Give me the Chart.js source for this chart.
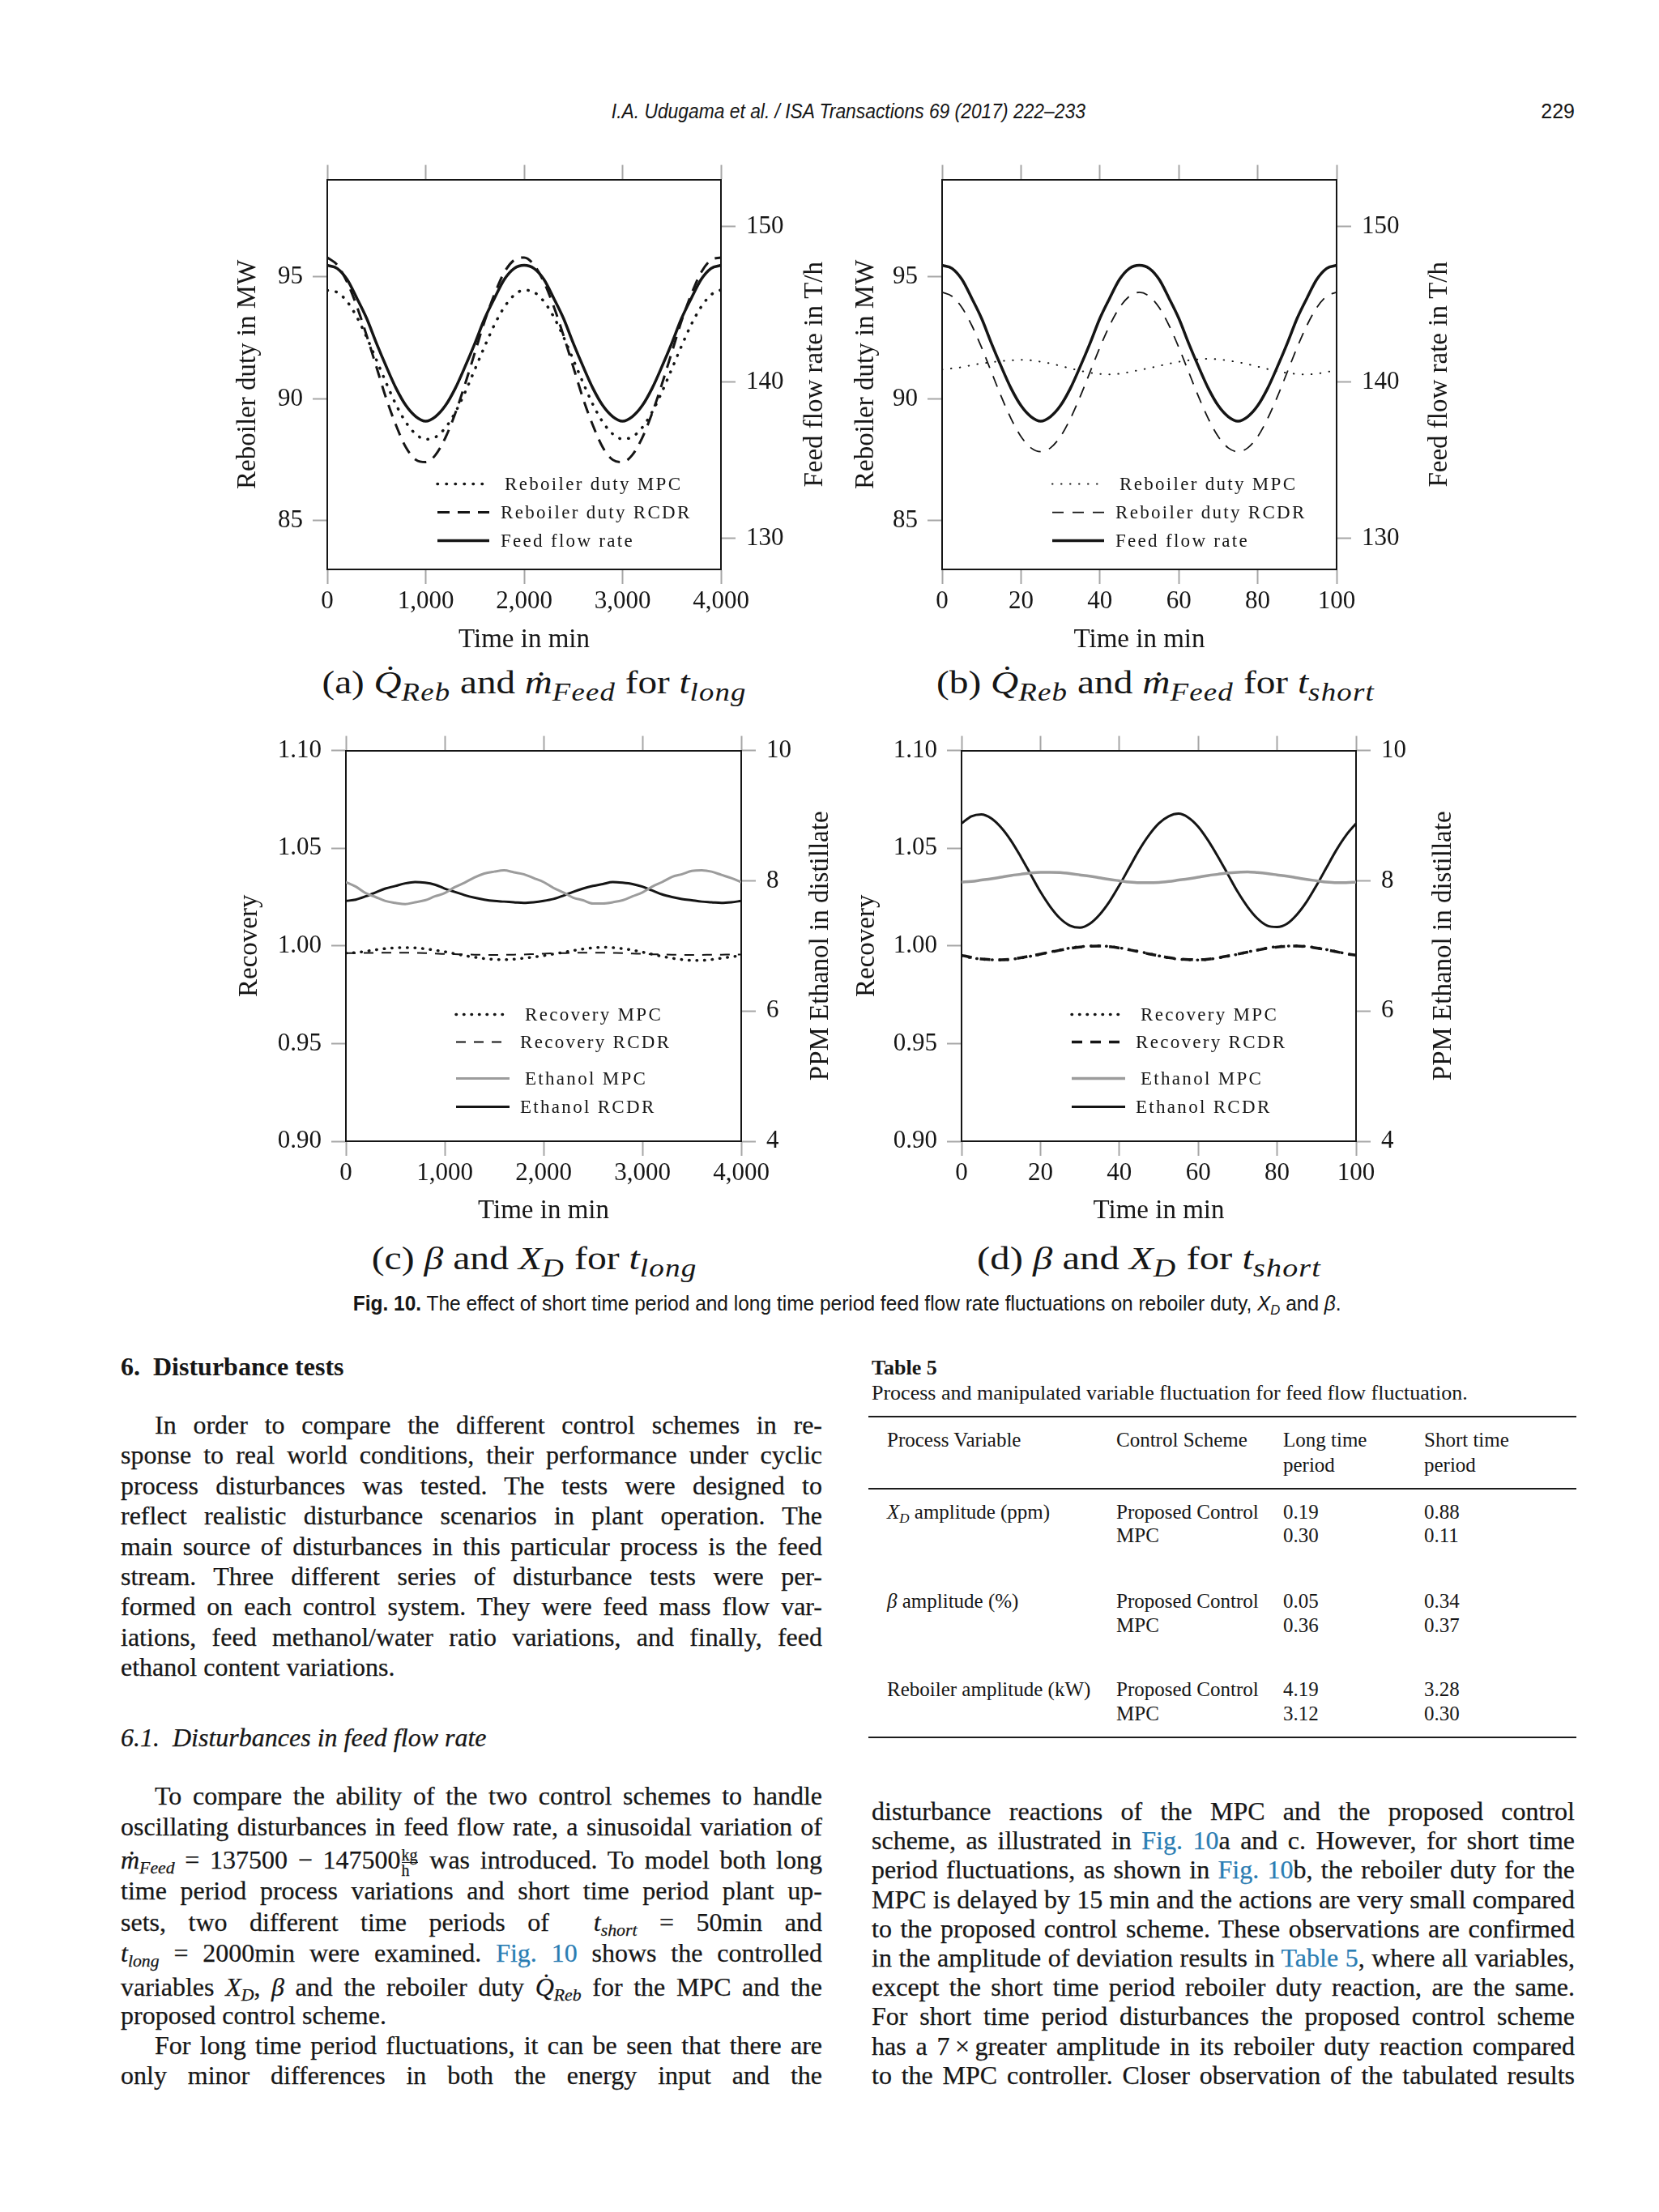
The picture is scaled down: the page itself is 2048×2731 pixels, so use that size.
<!DOCTYPE html>
<html><head><meta charset="utf-8">
<script src="https://cdn.jsdelivr.net/npm/chart.js@4.4.1/dist/chart.umd.min.js"></script>
<style>
html,body{margin:0;padding:0;background:#fff;}
body{width:2048px;height:2731px;position:relative;overflow:hidden;color:#161616;font-family:"Liberation Serif","Times New Roman",serif;}
canvas{position:absolute;}
.a{position:absolute;white-space:nowrap;}
.hdr{font-family:"Liberation Sans Narrow","Liberation Sans",sans-serif;font-style:italic;font-size:25px;line-height:30px;}
.cap{font-size:40px;line-height:46px;text-align:center;}
.cap i{font-style:italic;}
.cap sub{font-size:78%;letter-spacing:1px;}
sub{font-size:68%;vertical-align:-0.28em;line-height:0;}
.ln{position:absolute;font-size:32px;line-height:36px;height:36px;-webkit-text-stroke:0.25px #161616;}
.j{text-align:justify;text-align-last:justify;}
.lk{color:#2a7db3;-webkit-text-stroke:0.25px #2a7db3;}
.frac{display:inline-block;vertical-align:middle;font-size:20px;line-height:18px;text-align:center;margin:0 2px 0 1px;}
.frac span{display:block;}
.frac span+span{border-top:1.5px solid #222;}
.tb{font-size:26px;line-height:30px;}
.tc{font-size:25px;line-height:30px;}
.rule{position:absolute;left:1072px;width:874px;background:#1c1c1c;}
</style>
</head><body>

<div class="a hdr" id="hdr" style="left:547px;width:1000px;top:122px;text-align:center;">I.A. Udugama et al. / ISA Transactions 69 (2017) 222–233</div>
<div class="a hdr" style="left:1900px;width:44px;top:122px;text-align:right;font-style:normal;">229</div>

<canvas id="ca"></canvas>
<canvas id="cb"></canvas>
<canvas id="cc"></canvas>
<canvas id="cd"></canvas>

<div class="a cap" id="capa" style="left:260px;width:800px;top:820px;">(a) <i>Q̇</i><sub><i>Reb</i></sub> and <i>ṁ</i><sub><i>Feed</i></sub> for <i>t</i><sub><i>long</i></sub></div>
<div class="a cap" id="capb" style="left:1026px;width:800px;top:820px;">(b) <i>Q̇</i><sub><i>Reb</i></sub> and <i>ṁ</i><sub><i>Feed</i></sub> for <i>t</i><sub><i>short</i></sub></div>
<div class="a cap" id="capc" style="left:260px;width:800px;top:1531px;">(c) <i>β</i> and <i>X</i><sub><i>D</i></sub> for <i>t</i><sub><i>long</i></sub></div>
<div class="a cap" id="capd" style="left:1019px;width:800px;top:1531px;">(d) <i>β</i> and <i>X</i><sub><i>D</i></sub> for <i>t</i><sub><i>short</i></sub></div>

<div class="a hdr" id="figcap" style="left:246px;width:1600px;top:1594px;text-align:center;font-style:normal;"><b>Fig. 10.</b> The effect of short time period and long time period feed flow rate fluctuations on reboiler duty, <i>X</i><sub><i>D</i></sub> and <i>β</i>.</div>

<div class="a" style="left:149px;top:1668px;font-size:32px;line-height:38px;font-weight:bold;">6.&nbsp;&nbsp;Disturbance tests</div>
<div class="a" style="left:149px;top:2126px;font-size:32px;line-height:38px;font-style:italic;-webkit-text-stroke:0.25px #161616;">6.1.&nbsp;&nbsp;Disturbances in feed flow rate</div>

<div class="a tb" style="left:1076px;top:1674px;font-weight:bold;">Table 5</div>
<div class="a tb" style="left:1076px;top:1705px;">Process and manipulated variable fluctuation for feed flow fluctuation.</div>
<div class="rule" style="top:1748px;height:2px;"></div>
<div class="rule" style="top:1837px;height:2px;"></div>
<div class="rule" style="top:2144px;height:2px;"></div>
<div id="table"></div>
<div id="text"></div>

<script>
// ---------------- data ----------------
const tLong = [0,100,200,300,400,500,600,700,800,900,1000,1100,1200,1300,1400,1500,1600,1700,1800,1900,2000,2100,2200,2300,2400,2500,2600,2700,2800,2900,3000,3100,3200,3300,3400,3500,3600,3700,3800,3900,4000];
const tShort = [0,2.5,5,7.5,10,12.5,15,17.5,20,22.5,25,27.5,30,32.5,35,37.5,40,42.5,45,47.5,50,52.5,55,57.5,60,62.5,65,67.5,70,72.5,75,77.5,80,82.5,85,87.5,90,92.5,95,97.5,100];

// (a) long period, reboiler duty [MW] and feed [T/h]
const rebMpcLong = [94.45,94.37,94.0,93.36,92.53,91.59,90.64,89.75,89.03,88.55,88.34,88.43,88.81,89.44,90.27,91.21,92.16,93.05,93.77,94.26,94.46,94.38,94.0,93.37,92.54,91.6,90.65,89.76,89.04,88.56,88.35,88.44,88.82,89.45,90.28,91.22,92.17,93.06,93.78,94.27,94.47];
const rebRcdrLong = [95.8,95.5,94.8,93.8,92.6,91.3,90.0,88.9,88.0,87.5,87.4,87.7,88.4,89.4,90.6,91.9,93.2,94.3,95.2,95.7,95.8,95.5,94.8,93.8,92.6,91.3,90.0,88.9,88.0,87.5,87.4,87.7,88.4,89.4,90.6,91.9,93.2,94.3,95.2,95.7,95.8];
const feedLong = [147.5,147.3,146.6,145.4,144.1,142.5,141.0,139.6,138.5,137.8,137.5,137.8,138.5,139.6,141.0,142.5,144.1,145.4,146.6,147.3,147.5,147.3,146.6,145.4,144.1,142.5,141.0,139.6,138.5,137.8,137.5,137.8,138.5,139.6,141.0,142.5,144.1,145.4,146.6,147.3,147.5];

// (b) short period
const rebMpcShort = [91.2,91.25,91.3,91.38,91.45,91.5,91.55,91.58,91.6,91.58,91.52,91.45,91.35,91.25,91.15,91.07,91.02,91.0,91.03,91.1,91.18,91.26,91.35,91.44,91.52,91.58,91.62,91.64,91.62,91.57,91.5,91.42,91.32,91.22,91.13,91.06,91.02,91.0,91.03,91.1,91.18];
const rebRcdrShort = [94.37,94.21,93.75,93.02,92.11,91.1,90.09,89.18,88.45,87.99,87.83,87.99,88.45,89.18,90.09,91.1,92.11,93.02,93.75,94.21,94.37,94.21,93.75,93.02,92.11,91.1,90.09,89.18,88.45,87.99,87.83,87.99,88.45,89.18,90.09,91.1,92.11,93.02,93.75,94.21,94.37];
const feedShort = [147.5,147.3,146.6,145.4,144.1,142.5,141.0,139.6,138.5,137.8,137.5,137.8,138.5,139.6,141.0,142.5,144.1,145.4,146.6,147.3,147.5,147.3,146.6,145.4,144.1,142.5,141.0,139.6,138.5,137.8,137.5,137.8,138.5,139.6,141.0,142.5,144.1,145.4,146.6,147.3,147.5];

// (c) long period, recovery and ppm ethanol
const recMpcLong = [0.9963,0.9966,0.9972,0.9980,0.9986,0.9990,0.9991,0.9990,0.9985,0.9978,0.9970,0.9960,0.9950,0.9942,0.9935,0.9931,0.9930,0.9932,0.9937,0.9943,0.9950,0.9958,0.9967,0.9976,0.9984,0.9990,0.9993,0.9991,0.9986,0.9978,0.9968,0.9957,0.9946,0.9937,0.9930,0.9926,0.9926,0.9930,0.9937,0.9944,0.9950];
const recRcdrLong = [0.9963,0.9963,0.9964,0.9964,0.9965,0.9965,0.9965,0.9964,0.9963,0.9961,0.9959,0.9958,0.9956,0.9955,0.9954,0.9954,0.9954,0.9955,0.9956,0.9958,0.9960,0.9962,0.9963,0.9964,0.9965,0.9965,0.9965,0.9964,0.9963,0.9961,0.9959,0.9957,0.9956,0.9955,0.9954,0.9954,0.9954,0.9955,0.9955,0.9956,0.9956];
const ethMpcLong = [7.98,7.91,7.81,7.75,7.69,7.66,7.64,7.67,7.70,7.76,7.81,7.90,7.97,8.05,8.11,8.14,8.16,8.13,8.10,8.04,7.98,7.89,7.82,7.74,7.70,7.65,7.65,7.67,7.70,7.76,7.82,7.91,7.98,8.06,8.10,8.15,8.16,8.14,8.09,8.04,7.98];
const ethRcdrLong = [7.69,7.71,7.76,7.82,7.88,7.92,7.96,7.98,7.97,7.94,7.88,7.83,7.78,7.74,7.71,7.69,7.68,7.67,7.66,7.67,7.69,7.72,7.77,7.83,7.88,7.92,7.95,7.98,7.97,7.95,7.91,7.85,7.79,7.75,7.72,7.70,7.68,7.67,7.66,7.67,7.69];

// (d) short period
const recMpcShort = [0.9949,0.9939,0.9932,0.9929,0.9928,0.9931,0.9938,0.9947,0.9957,0.9969,0.9979,0.9989,0.9996,0.9999,1.0000,0.9997,0.9990,0.9981,0.9971,0.9960,0.9949,0.9939,0.9932,0.9929,0.9928,0.9931,0.9938,0.9947,0.9957,0.9969,0.9979,0.9989,0.9996,0.9999,1.0000,0.9997,0.9990,0.9981,0.9971,0.9960,0.9949];
const recRcdrShort = [0.9952,0.9941,0.9933,0.9930,0.9929,0.9932,0.9939,0.9948,0.9958,0.9968,0.9978,0.9987,0.9994,0.9998,0.9999,0.9996,0.9989,0.9980,0.9970,0.9959,0.9950,0.9940,0.9933,0.9930,0.9929,0.9932,0.9939,0.9948,0.9958,0.9968,0.9978,0.9987,0.9994,0.9998,0.9999,0.9996,0.9989,0.9980,0.9970,0.9960,0.9952];
const ethMpcShort = [7.98,7.99,8.01,8.03,8.055,8.08,8.10,8.12,8.13,8.13,8.125,8.11,8.09,8.07,8.045,8.02,8.0,7.98,7.97,7.97,7.975,7.99,8.01,8.03,8.055,8.08,8.10,8.12,8.13,8.135,8.125,8.11,8.09,8.07,8.045,8.02,8.0,7.98,7.97,7.97,7.98];
const ethRcdrShort = [8.88,8.99,9.02,8.96,8.82,8.62,8.37,8.10,7.83,7.60,7.42,7.31,7.28,7.34,7.48,7.68,7.93,8.20,8.47,8.70,8.88,8.99,9.03,8.97,8.83,8.62,8.37,8.10,7.83,7.60,7.42,7.31,7.29,7.34,7.48,7.68,7.93,8.20,8.47,8.70,8.88];

// tick values
const xTicksLong = [0,1000,2000,3000,4000];
const xTicksShort = [0,20,40,60,80,100];
const yTicksReb = [85,90,95];
const yTicksFeed = [130,140,150];
const yTicksRec = [0.90,0.95,1.00,1.05,1.10];
const yTicksPpm = [4,6,8,10];

// ---------------- charts ----------------
const SERIF = '"Liberation Serif","Times New Roman",serif';
const INK = '#161616';
const TITLE_SIZE = 33, HALF = TITLE_SIZE*1.2/2;

const boxLegend = {
  id:'boxLegend',
  afterDatasetsDraw(chart){
    const o = chart.config.options.boxLegendCfg; if(!o) return;
    const {ctx, chartArea:a} = chart;
    o.items.forEach(it=>{
      const ds = chart.data.datasets[it.ds];
      const y = a.top + it.y;
      ctx.save();
      ctx.strokeStyle = ds.borderColor; ctx.lineWidth = ds.borderWidth;
      ctx.setLineDash(ds.borderDash||[]); ctx.lineCap = ds.borderCapStyle||'butt';
      ctx.beginPath(); ctx.moveTo(a.left+o.x0,y); ctx.lineTo(a.left+o.x1,y); ctx.stroke();
      ctx.setLineDash([]);
      ctx.fillStyle = INK; ctx.font = '23px '+SERIF; ctx.letterSpacing='2.3px';
      ctx.textAlign='left'; ctx.textBaseline='middle';
      ctx.fillText(ds.label, a.left+o.tx+(it.dx||0), y+1);
      ctx.restore();
    });
  }
};
const rightTitle = {
  id:'rightTitle',
  afterDraw(chart){
    const t = chart.config.options.rightTitleText; if(!t) return;
    const {ctx, chartArea:a} = chart;
    ctx.save(); ctx.font=TITLE_SIZE+'px '+SERIF; ctx.fillStyle=INK; ctx.textAlign='center'; ctx.textBaseline='middle';
    ctx.translate(chart.width-HALF,(a.top+a.bottom)/2); ctx.rotate(-Math.PI/2);
    ctx.fillText(t,0,0); ctx.restore();
  }
};

function axis(pos, min, max, tickVals, fmt, size, extra){
  const horiz = (pos==='top'||pos==='bottom');
  const ax = {
    type:'linear', position:pos, min:min, max:max,
    border:{display:true,color:'#151515',width:2},
    grid:{display:true,drawOnChartArea:false,drawTicks:true,tickLength:18,tickColor:'#a6a6a6',tickWidth:2},
    ticks:{display:true,font:{family:SERIF,size:31},color:INK,autoSkip:false,maxRotation:0,minRotation:0,
           padding: horiz?3:12, callback:(v)=>fmt(v)},
    afterBuildTicks:(s)=>{ s.ticks = tickVals.map(v=>({value:v})); },
    afterFit:(s)=>{ if(horiz) s.height=size; else s.width=size; }
  };
  return Object.assign(ax, extra||{});
}

function build(id, g, xr, xTicks, xFmt, yl, yr, datasets, legend, titles){
  const cv = document.getElementById(id);
  cv.width = g.cw; cv.height = g.ch;
  cv.style.width = g.cw+'px'; cv.style.height = g.ch+'px';
  cv.style.left = g.cl+'px'; cv.style.top = g.ct+'px';
  const leftW = g.L-g.cl, rightW = g.cl+g.cw-g.R, topH = g.T-g.ct, botH = g.ct+g.ch-g.B;
  const tf = {family:SERIF,size:TITLE_SIZE};
  const xAx = axis('bottom', xr[0], xr[1], xTicks, xFmt, botH,
     {title:{display:true,text:titles.x,font:tf,color:INK,padding:0}});
  const xTop = axis('top', xr[0], xr[1], xTicks, xFmt, topH);
  xTop.ticks.display = false;
  const yAx = axis('left', yl.min, yl.max, yl.ticks, yl.fmt, leftW,
     {title:{display:true,text:titles.yl,font:tf,color:INK,padding:0}});
  const y2 = axis('right', yr.min, yr.max, yr.ticks, yr.fmt, rightW);
  y2.ticks.padding = 13;
  return new Chart(cv, {
    type:'line',
    data:{datasets:datasets},
    options:{
      responsive:false, animation:false, devicePixelRatio:1,
      layout:{padding:0},
      plugins:{legend:{display:false},tooltip:{enabled:false}},
      elements:{point:{radius:0},line:{tension:0.4,cubicInterpolationMode:'monotone'}},
      scales:{x:xAx, xt:xTop, y:yAx, y2:y2},
      boxLegendCfg: legend,
      rightTitleText: titles.yr
    },
    plugins:[boxLegend,rightTitle]
  });
}

const pts = (xs, ys) => xs.map((x,i)=>({x:x,y:ys[i]}));
const fmtThousand = v => v.toLocaleString('en-US');
const fmtInt = v => String(v);
const fmt2 = v => v.toFixed(2);
function ds(label, xs, ys, axisId, style){
  return Object.assign({label:label, data:pts(xs,ys), xAxisID:'x', yAxisID:axisId,
    borderColor:'#151515', borderWidth:3, fill:false, pointRadius:0, borderCapStyle:'butt'}, style);
}

const legAB = {x0:136,x1:200,tx:214,items:[{ds:0,y:376,dx:5},{ds:1,y:411},{ds:2,y:446}]};
const legCD = {x0:136,x1:202,tx:215,items:[{ds:0,y:326,dx:6},{ds:1,y:360},{ds:2,y:405,dx:6},{ds:3,y:440}]};

const ylReb = {min:83,max:99,ticks:yTicksReb,fmt:fmtInt};
const yrFeed = {min:128,max:153,ticks:yTicksFeed,fmt:fmtInt};
const ylRec = {min:0.90,max:1.10,ticks:yTicksRec,fmt:fmt2};
const yrPpm = {min:4,max:10,ticks:yTicksPpm,fmt:fmtInt};

function geo(titleL, titleR, top, titleB, L, T, R, B){
  const cl = Math.round(titleL-HALF), cr = Math.round(titleR+HALF), cb = Math.round(titleB+HALF);
  return {cl:cl, ct:top, cw:cr-cl, ch:cb-top, L:L, T:T, R:R, B:B};
}

build('ca', geo(307,1006,190,790,404,219,890,703), [0,4000], xTicksLong, fmtThousand, ylReb, yrFeed, [
  ds('Reboiler duty MPC', tLong, rebMpcLong, 'y', {borderWidth:3.5,borderDash:[0.5,10.5],borderCapStyle:'round'}),
  ds('Reboiler duty RCDR', tLong, rebRcdrLong, 'y', {borderWidth:3,borderDash:[15,10]}),
  ds('Feed flow rate', tLong, feedLong, 'y2', {borderWidth:3.5})
], legAB, {x:'Time in min', yl:'Reboiler duty in MW', yr:'Feed flow rate in T/h'});

build('cb', geo(1070,1777,190,790,1163,219,1650,703), [0,100], xTicksShort, fmtInt, ylReb, yrFeed, [
  ds('Reboiler duty MPC', tShort, rebMpcShort, 'y', {borderWidth:2,borderDash:[0.5,10.5],borderCapStyle:'round'}),
  ds('Reboiler duty RCDR', tShort, rebRcdrShort, 'y', {borderWidth:1.8,borderDash:[14,11]}),
  ds('Feed flow rate', tShort, feedShort, 'y2', {borderWidth:3.5})
], legAB, {x:'Time in min', yl:'Reboiler duty in MW', yr:'Feed flow rate in T/h'});

build('cc', geo(309,1013,895,1495,427,924,915,1409), [0,4000], xTicksLong, fmtThousand, ylRec, yrPpm, [
  ds('Recovery MPC', tLong, recMpcLong, 'y', {borderWidth:3.5,borderDash:[0.5,9],borderCapStyle:'round'}),
  ds('Recovery RCDR', tLong, recRcdrLong, 'y', {borderWidth:2,borderDash:[12,10]}),
  ds('Ethanol MPC', tLong, ethMpcLong, 'y2', {borderWidth:3,borderColor:'#9c9c9c'}),
  ds('Ethanol RCDR', tLong, ethRcdrLong, 'y2', {borderWidth:3})
], legCD, {x:'Time in min', yl:'Recovery', yr:'PPM Ethanol in distillate'});

build('cd', geo(1071,1782,895,1495,1187,924,1674,1409), [0,100], xTicksShort, fmtInt, ylRec, yrPpm, [
  ds('Recovery MPC', tShort, recMpcShort, 'y', {borderWidth:3.5,borderDash:[0.5,9],borderCapStyle:'round'}),
  ds('Recovery RCDR', tShort, recRcdrShort, 'y', {borderWidth:3.5,borderDash:[13,10]}),
  ds('Ethanol MPC', tShort, ethMpcShort, 'y2', {borderWidth:3.5,borderColor:'#9c9c9c'}),
  ds('Ethanol RCDR', tShort, ethRcdrShort, 'y2', {borderWidth:3})
], legCD, {x:'Time in min', yl:'Recovery', yr:'PPM Ethanol in distillate'});

// ---------------- page text ----------------
function fitSpan(id, target){
  const el = document.getElementById(id);
  const s = document.createElement('span'); s.innerHTML = el.innerHTML; el.innerHTML=''; el.appendChild(s);
  s.style.display='inline-block';
  const w = s.getBoundingClientRect().width;
  s.style.transform = 'scaleX('+(target/w)+')';
}
fitSpan('hdr', 585);
fitSpan('figcap', 1220);
fitSpan('capa', 524);
fitSpan('capb', 541);
fitSpan('capc', 402);
fitSpan('capd', 425);

const LK = t => '<span class="lk">'+t+'</span>';
const leftLines = [
 [1759,'In order to compare the different control schemes in re-',1,42],
 [1796,'sponse to real world conditions, their performance under cyclic',1,0],
 [1834,'process disturbances was tested. The tests were designed to',1,0],
 [1871,'reflect realistic disturbance scenarios in plant operation. The',1,0],
 [1909,'main source of disturbances in this particular process is the feed',1,0],
 [1946,'stream. Three different series of disturbance tests were per-',1,0],
 [1983,'formed on each control system. They were feed mass flow var-',1,0],
 [2021,'iations, feed methanol/water ratio variations, and finally, feed',1,0],
 [2058,'ethanol content variations.',0,0],
 [2217,'To compare the ability of the two control schemes to handle',1,42],
 [2255,'oscillating disturbances in feed flow rate, a sinusoidal variation of',1,0],
 [2296,'<i>ṁ</i><sub><i>Feed</i></sub> = 137500 − 147500<span class="frac"><span>kg</span><span>h</span></span> was introduced. To model both long',1,0],
 [2334,'time period process variations and short time period plant up-',1,0],
 [2373,'sets, two different time periods of &nbsp;<i>t</i><sub><i>short</i></sub> = 50min and',1,0],
 [2411,'<i>t</i><sub><i>long</i></sub> = 2000min were examined. '+LK('Fig.&nbsp;10')+' shows the controlled',1,0],
 [2453,'variables <i>X</i><sub><i>D</i></sub>, <i>β</i> and the reboiler duty <i>Q̇</i><sub><i>Reb</i></sub> for the MPC and the',1,0],
 [2488,'proposed control scheme.',0,0],
 [2525,'For long time period fluctuations, it can be seen that there are',1,42],
 [2562,'only minor differences in both the energy input and the',1,0]
];
const rightLines = [
 [2236,'disturbance reactions of the MPC and the proposed control'],
 [2272,'scheme, as illustrated in '+LK('Fig.&nbsp;10')+'a and c. However, for short time'],
 [2308,'period fluctuations, as shown in '+LK('Fig.&nbsp;10')+'b, the reboiler duty for the'],
 [2345,'MPC is delayed by 15 min and the actions are very small compared'],
 [2381,'to the proposed control scheme. These observations are confirmed'],
 [2417,'in the amplitude of deviation results in '+LK('Table&nbsp;5')+', where all variables,'],
 [2453,'except the short time period reboiler duty reaction, are the same.'],
 [2489,'For short time period disturbances the proposed control scheme'],
 [2526,'has a 7&thinsp;×&thinsp;greater amplitude in its reboiler duty reaction compared'],
 [2562,'to the MPC controller. Closer observation of the tabulated results']
];
const host = document.getElementById('text');
function addLine(x, w, y, html, just){
  const d = document.createElement('div');
  d.className = 'ln' + (just?' j':'');
  d.style.left = x+'px'; d.style.top = (y-18)+'px'; d.style.width = w+'px';
  d.innerHTML = html;
  host.appendChild(d);
  let fs = 32;
  d.style.height='auto';
  while (d.getBoundingClientRect().height > 44 && fs > 20){ fs -= 0.25; d.style.fontSize = fs+'px'; }
  d.style.height='36px';
}
leftLines.forEach(l => addLine(149+l[3], 866-l[3], l[0], l[1], l[2]));
rightLines.forEach(l => addLine(1076, 868, l[0], l[1], 1));

// table
const tcols = [1095,1378,1584,1758];
const trows = [
 [1778,['Process Variable','Control Scheme','Long time','Short time']],
 [1809,['','','period','period']],
 [1867,['<i>X</i><sub><i>D</i></sub> amplitude (ppm)','Proposed Control','0.19','0.88']],
 [1896,['','MPC','0.30','0.11']],
 [1977,['<i>β</i> amplitude (%)','Proposed Control','0.05','0.34']],
 [2007,['','MPC','0.36','0.37']],
 [2086,['Reboiler amplitude (kW)','Proposed Control','4.19','3.28']],
 [2116,['','MPC','3.12','0.30']]
];
const th = document.getElementById('table');
trows.forEach(r => r[1].forEach((c,i)=>{
  if(!c) return;
  const d = document.createElement('div'); d.className='a tc';
  d.style.left = tcols[i]+'px'; d.style.top = (r[0]-15)+'px'; d.innerHTML = c; th.appendChild(d);
}));
</script>
</body></html>
